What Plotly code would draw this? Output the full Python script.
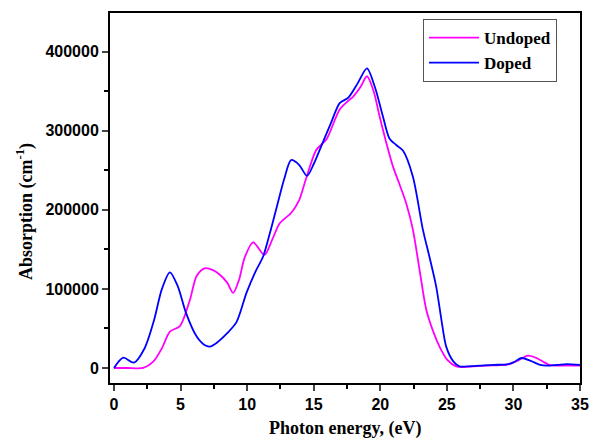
import plotly.graph_objects as go

# Undoped (magenta)
undoped_x = [0, 1.0, 2.2, 2.95, 3.6, 4.2, 4.95, 5.7, 6.2, 6.8, 7.4, 7.95, 8.5, 8.95, 9.4, 9.8, 10.45, 11.3, 11.9, 12.45, 13.3, 13.9, 14.4, 15.2, 15.95, 16.95, 17.6, 17.95, 18.5, 19.0, 19.5, 19.95, 20.45, 20.95, 21.45, 21.95, 22.45, 22.95, 23.45, 24.0, 24.45, 25.0, 25.7, 26.2, 27.0, 28.0, 29.0, 29.7, 30.4, 31.1, 31.8, 32.7, 33.5, 34.3, 35.0]
undoped_y = [0, 0, 0, 8000, 25000, 46000, 53000, 86000, 116000, 126000, 124000, 118000, 108000, 95000, 112000, 139000, 159000, 143000, 163000, 183000, 196000, 212000, 238000, 276000, 289000, 327000, 338000, 343000, 355000, 369000, 350000, 318000, 285000, 255000, 232000, 208000, 175000, 124000, 74000, 45000, 27000, 11000, 2000, 1000, 2000, 3000, 3500, 5000, 10000, 15500, 12000, 4000, 3000, 3000, 3000]

# Doped (blue)
doped_x = [0, 0.7, 1.5, 2.3, 3.0, 3.6, 4.2, 4.8, 5.4, 6.2, 6.8, 7.2, 7.8, 8.5, 9.2, 9.95, 10.6, 11.2, 11.7, 12.2, 12.8, 13.3, 13.9, 14.5, 15.0, 15.6, 16.3, 16.95, 17.6, 18.3, 19.0, 19.6, 20.2, 20.7, 21.2, 21.7, 22.45, 23.2, 23.7, 24.2, 24.6, 24.95, 25.5, 25.95, 26.5, 27.5, 28.5, 29.5, 30.0, 30.6, 31.3, 32.0, 32.5, 33.3, 34.0, 35.0]
doped_y = [0, 13000, 6700, 25000, 60000, 100000, 121000, 103000, 70000, 40000, 29000, 27000, 33000, 44000, 58000, 95000, 121000, 141000, 170000, 202000, 240000, 263000, 257000, 243000, 258000, 282000, 310000, 335000, 342000, 360000, 379000, 355000, 318000, 290000, 282000, 275000, 242000, 175000, 140000, 103000, 60000, 27000, 8000, 2000, 2000, 3000, 4000, 4500, 7000, 12600, 9000, 4000, 3000, 4000, 5000, 4000]

x_ticks = [0, 5, 10, 15, 20, 25, 30, 35]
y_ticks = [0, 100000, 200000, 300000, 400000]

x_title = "Photon energy, (eV)"
y_title = "Absorption (cm<sup>-1</sup>)"

fig = go.Figure()
fig.add_trace(go.Scatter(x=undoped_x, y=undoped_y, mode="lines", name="Undoped",
                         line=dict(color="#FF00FF", width=1.8, shape="spline", smoothing=0.8)))
fig.add_trace(go.Scatter(x=doped_x, y=doped_y, mode="lines", name="Doped",
                         line=dict(color="#0000FF", width=1.8, shape="spline", smoothing=0.8)))

tickfont = dict(family="Liberation Sans", size=16, color="black", weight="bold")
titlefont = dict(family="Liberation Serif", size=18, color="black", weight="bold")

W, H = 590, 439
L, R, T, B = 110, 10, 13, 56
pw, ph = W - L - R, H - T - B

fig.update_layout(
    width=W, height=H,
    margin=dict(l=L, r=R, t=T, b=B, autoexpand=False),
    plot_bgcolor="white", paper_bgcolor="white",
    showlegend=True,
    legend=dict(x=(423 - L) / pw, y=(H - B - 19) / ph, xanchor="left", yanchor="top",
                bordercolor="#555555", borderwidth=1, bgcolor="white",
                font=dict(family="Liberation Serif", size=17, color="black", weight="bold"),
                itemwidth=50, tracegroupgap=0),
    xaxis=dict(range=[-0.3, 35], tickvals=x_ticks, ticks="outside", ticklen=6, tickwidth=1.5,
               showline=True, linecolor="black", linewidth=2, mirror=True, showgrid=False,
               zeroline=False, tickfont=tickfont, automargin=False,
               minor=dict(dtick=2.5, tick0=0, ticks="outside", ticklen=4, tickwidth=1.5, tickcolor="black")),
    yaxis=dict(range=[-19000, 449000], tickvals=y_ticks, tickformat="d", ticks="outside", ticklen=6,
               tickwidth=1.5, showline=True, linecolor="black", linewidth=2, mirror=True,
               showgrid=False, zeroline=False, tickfont=tickfont, automargin=False,
               minor=dict(dtick=50000, tick0=0, ticks="outside", ticklen=4, tickwidth=1.5, tickcolor="black")),
    annotations=[
        dict(text=x_title, xref="paper", yref="paper", x=(345 - L) / pw, y=(H - B - 428) / ph,
             xanchor="center", yanchor="middle", showarrow=False, font=titlefont),
        dict(text=y_title, xref="paper", yref="paper", x=(25 - L) / pw, y=(H - B - 212) / ph,
             xanchor="center", yanchor="middle", showarrow=False, font=titlefont, textangle=-90),
    ],
)

fig.write_html("out.html", config={"displayModeBar": False},
               post_script="document.body.style.margin='0px';document.body.style.padding='0px';")
